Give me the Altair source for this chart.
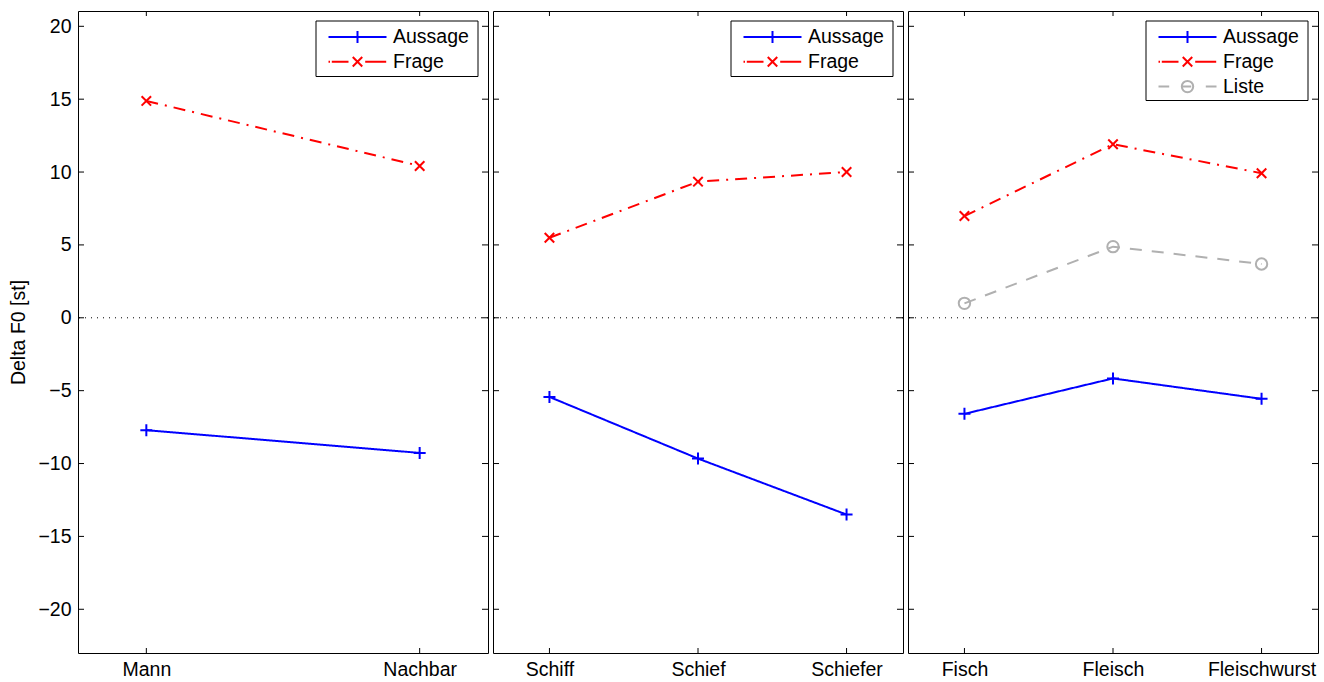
import altair as alt
import pandas as pd

FONT = "Liberation Sans"
FS = 19.5

# ---- data ----
series_names = ["Aussage", "Frage", "Liste"]
series_colors = ["#0000ff", "#ff0000", "#b0b0b0"]

words_1 = ["Mann", "Nachbar"]
aussage_1 = [-7.71, -9.27]
frage_1 = [14.88, 10.42]

words_2 = ["Schiff", "Schief", "Schiefer"]
aussage_2 = [-5.43, -9.66, -13.5]
frage_2 = [5.49, 9.34, 10.0]

words_3 = ["Fisch", "Fleisch", "Fleischwurst"]
aussage_3 = [-6.59, -4.16, -5.56]
frage_3 = [6.98, 11.91, 9.92]
liste_3 = [0.99, 4.88, 3.69]

ytick_values = [-20, -15, -10, -5, 0, 5, 10, 15, 20]
y_domain = [-23.0, 21.05]

# ---- styles ----
W, H = 410, 642
line_dashes = {"Aussage": [1, 0], "Frage": [12, 7, 2, 7], "Liste": [12, 10]}
legend_dashes = {"Aussage": [1, 0], "Frage": [1.5, 1.8, 16.7, 16.7, 21, 100],
                 "Liste": [10.7, 13, 9, 14.6, 11, 100]}
shapes = {"Aussage": "M-1,0L1,0M0,-1L0,1", "Frage": "M-1,-1L1,1M-1,1L1,-1", "Liste": "circle"}
sizes = {"Aussage": 144, "Frage": 90, "Liste": 130}
colors = dict(zip(series_names, series_colors))

dummy = alt.Data(values=[{"a": 1}])


def panel(words, series, xdom, show_y):
    rows = []
    for s, vals in series.items():
        for i, (w, v) in enumerate(zip(words, vals)):
            rows.append({"pos": i + 1, "word": w, "series": s, "value": v})
    df = pd.DataFrame(rows)
    positions = list(range(1, len(words) + 1))
    label_expr = "[" + ",".join("'%s'" % w for w in words) + "][datum.value - 1]"
    xscale = alt.Scale(domain=xdom, nice=False, zero=False)
    yscale = alt.Scale(domain=y_domain, nice=False, zero=False)
    xaxis = alt.Axis(values=positions, labelExpr=label_expr, title=None, labelPadding=7,
                     ticks=False, tickSize=0, domain=False, grid=False, labelAngle=0,
                     labelFontSize=FS, labelFont=FONT, labelColor="black")
    if show_y:
        yaxis = alt.Axis(values=ytick_values, title="Delta F0 [st]", labelPadding=7,
                         ticks=False, tickSize=0, domain=False, grid=False,
                         labelFontSize=FS, labelFont=FONT, labelColor="black",
                         titleFontSize=FS, titleFont=FONT, titleColor="black",
                         titleFontWeight="normal", titlePadding=9)
    else:
        yaxis = None

    def X(f):
        return alt.X(f, type="quantitative", scale=xscale, axis=xaxis)

    def Y(f):
        return alt.Y(f, type="quantitative", scale=yscale, axis=yaxis)

    layers = []
    # zero line
    zdf = pd.DataFrame({"value": [0.0]})
    layers.append(alt.Chart(zdf).mark_rule(color="black", strokeWidth=1, strokeDash=[1, 5])
                  .encode(y=Y("value")))
    # inward ticks
    ydf = pd.DataFrame({"value": ytick_values})
    xdf = pd.DataFrame({"pos": positions})
    layers.append(alt.Chart(ydf).mark_rule(color="black", strokeWidth=1)
                  .encode(y=Y("value"), x=alt.value(0), x2=alt.value(6)))
    layers.append(alt.Chart(ydf).mark_rule(color="black", strokeWidth=1)
                  .encode(y=Y("value"), x=alt.value(W - 6), x2=alt.value(W)))
    layers.append(alt.Chart(xdf).mark_rule(color="black", strokeWidth=1)
                  .encode(x=X("pos"), y=alt.value(0), y2=alt.value(5)))
    layers.append(alt.Chart(xdf).mark_rule(color="black", strokeWidth=1)
                  .encode(x=X("pos"), y=alt.value(H - 5), y2=alt.value(H)))
    # series
    for s in series:
        sdf = df[df["series"] == s]
        layers.append(alt.Chart(sdf).mark_line(color=colors[s], strokeWidth=2,
                                               strokeDash=line_dashes[s])
                      .encode(x=X("pos"), y=Y("value")))
        layers.append(alt.Chart(sdf).mark_point(shape=shapes[s], size=sizes[s], filled=False,
                                                strokeWidth=2, color=colors[s], opacity=1)
                      .encode(x=X("pos"), y=Y("value")))
    # legend
    n = len(series)
    layers.append(alt.Chart(dummy).mark_rect(fill="white", stroke="black", strokeWidth=1)
                  .encode(x=alt.value(238), x2=alt.value(400), y=alt.value(10),
                          y2=alt.value(10 + 24 * n + 7.5)))
    for i, s in enumerate(series):
        yr = 26 + 24.8 * i
        layers.append(alt.Chart(dummy).mark_rule(color=colors[s], strokeWidth=2,
                                                 strokeDash=legend_dashes[s])
                      .encode(x=alt.value(250.5), x2=alt.value(308.5), y=alt.value(yr)))
        layers.append(alt.Chart(dummy).mark_point(shape=shapes[s], size=sizes[s], filled=False,
                                                  strokeWidth=2, color=colors[s], opacity=1)
                      .encode(x=alt.value(279.5), y=alt.value(yr)))
        layers.append(alt.Chart(dummy).mark_text(align="left", baseline="middle", font=FONT,
                                                 fontSize=FS, color="black")
                      .encode(x=alt.value(315), y=alt.value(yr), text=alt.value(s)))
    return alt.layer(*layers).properties(width=W, height=H)


p1 = panel(words_1, {"Aussage": aussage_1, "Frage": frage_1}, [0.75, 2.25], True)
p2 = panel(words_2, {"Aussage": aussage_2, "Frage": frage_2}, [0.62, 3.38], False)
p3 = panel(words_3, {"Aussage": aussage_3, "Frage": frage_3, "Liste": liste_3}, [0.62, 3.38], False)

chart = (
    alt.hconcat(p1, p2, p3, spacing=3)
    .resolve_scale(x="independent")
    .properties(padding={"left": 8, "top": 10, "right": 5, "bottom": 0}, background="white")
    .configure_view(stroke="black", strokeWidth=1)
)

chart.save("out.html", embed_options={"renderer": "svg", "actions": False})
